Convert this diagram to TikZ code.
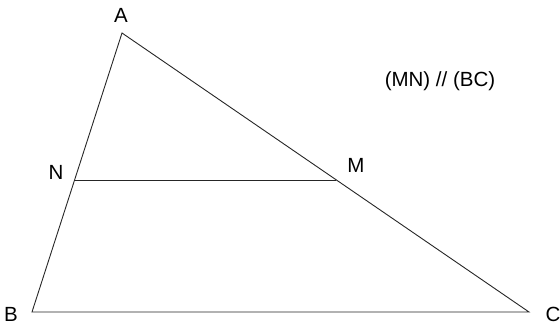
\documentclass[tikz,border=0pt]{standalone}
\usepackage{fontspec}
\setmainfont{Liberation Sans}
\usetikzlibrary{calc}
\begin{document}
\begin{tikzpicture}[x=1pt,y=-1pt,
  seg/.style={line width=0.9pt, draw=black!85},
  lbl/.style={font=\fontsize{20.5}{24}\selectfont, inner sep=0pt, text=black}]
\useasboundingbox (0,0) rectangle (560,324);
\coordinate (A) at (122,33);
\coordinate (B) at (32,312);
\coordinate (C) at (529,312);
\coordinate (N) at ($(A)!0.527!(B)$);
\coordinate (M) at ($(A)!0.527!(C)$);
\draw[seg] (A) -- (B) -- (C) -- cycle;
\draw[seg] (N) -- (M);
\node[lbl] (lA) at (121,15) {A};
\node[lbl] (lB) at (11,314) {B};
\node[lbl] (lC) at (553,314) {C};
\node[lbl] (lN) at (56,172) {N};
\node[lbl] (lM) at (356,165) {M};
\node[lbl] (txt) at (440,81) {(MN) // (BC)};
\end{tikzpicture}
\end{document}
